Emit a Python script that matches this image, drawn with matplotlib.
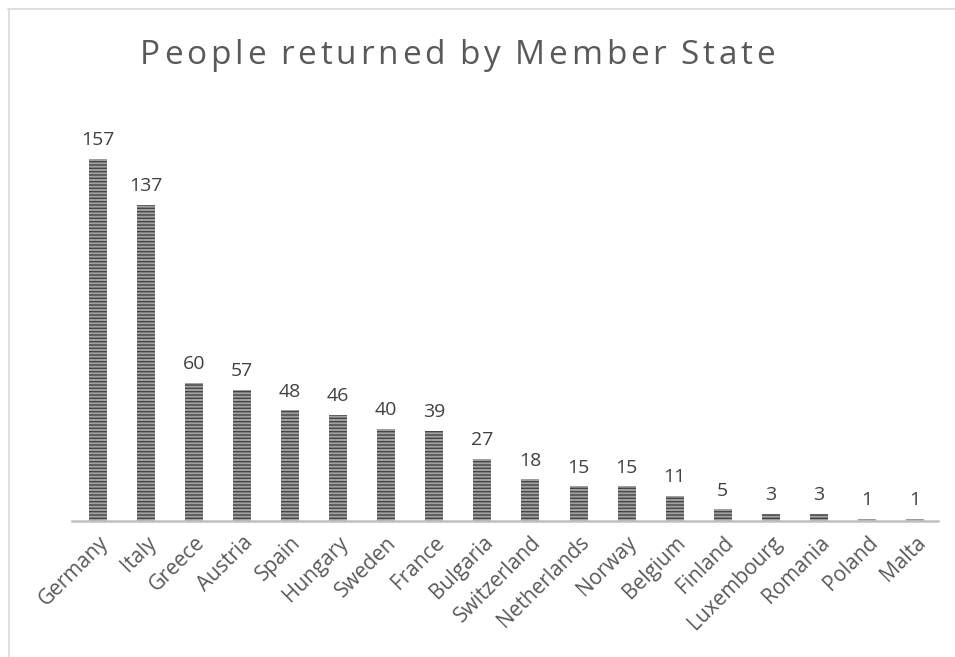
import matplotlib

matplotlib.use("Agg")
import matplotlib.pyplot as plt
from matplotlib.lines import Line2D

countries = ["Germany", "Italy", "Greece", "Austria", "Spain", "Hungary", "Sweden",
             "France", "Bulgaria", "Switzerland", "Netherlands", "Norway", "Belgium",
             "Finland", "Luxembourg", "Romania", "Poland", "Malta"]
returned = [157, 137, 60, 57, 48, 46, 40, 39, 27, 18, 15, 15, 11, 5, 3, 3, 1, 1]
title = "People returned by Member State"

plt.rcParams["font.family"] = ["Open Sans", "DejaVu Sans"]
plt.rcParams["hatch.linewidth"] = 1.0

W, H = 955, 657
fig = plt.figure(figsize=(W / 100, H / 100), dpi=100)
ax = fig.add_axes([72 / W, 136 / H, 866 / W, 421 / H])

x = list(range(len(countries)))
ax.bar(x, returned, width=0.375, color="#a0a0a0", edgecolor="#454545",
       hatch="-----", linewidth=0)

for xi, v in zip(x, returned):
    ax.annotate(str(v), (xi, v), xytext=(0, 7), textcoords="offset points",
                ha="center", va="bottom", fontsize=14, color="#404040")

ax.set_xlim(-0.54, 17.48)
ax.set_ylim(0, 182.6)
ax.set_xticks(x)
ax.set_xticklabels(countries, rotation=45, ha="right", va="top",
                   rotation_mode="anchor", fontsize=15, color="#595959")
ax.tick_params(axis="x", length=0, pad=8)
ax.set_yticks([])
for s in ["top", "right", "left"]:
    ax.spines[s].set_visible(False)
ax.spines["bottom"].set_color("#c0c0c0")
ax.spines["bottom"].set_linewidth(1.8)

# title with letter spacing, placed glyph by glyph
renderer = fig.canvas.get_renderer()
x0, x1 = 140, 775
glyphs = []
for ch in title:
    t = fig.text(0, 1 - 56 / H, ch, fontsize=24, color="#595959",
                 va="center", ha="left")
    glyphs.append(t)
widths = [g.get_window_extent(renderer).width for g in glyphs]
# spaces measure too small; give them a fixed width
widths = [w if ch != " " else 7 for w, ch in zip(widths, title)]
gap = (x1 - x0 - sum(widths)) / (len(title) - 1)
pos = x0
for g, w in zip(glyphs, widths):
    g.set_x(pos / W)
    pos += w + gap

# chart frame (top and left edges only visible)
fig.add_artist(Line2D([8 / W, 1], [1 - 8.5 / H] * 2, transform=fig.transFigure,
                      color="#d9d9d9", linewidth=1.2))
fig.add_artist(Line2D([8.5 / W] * 2, [0, 1 - 8.5 / H], transform=fig.transFigure,
                      color="#d9d9d9", linewidth=1.2))

fig.savefig("out.png", dpi=100)
